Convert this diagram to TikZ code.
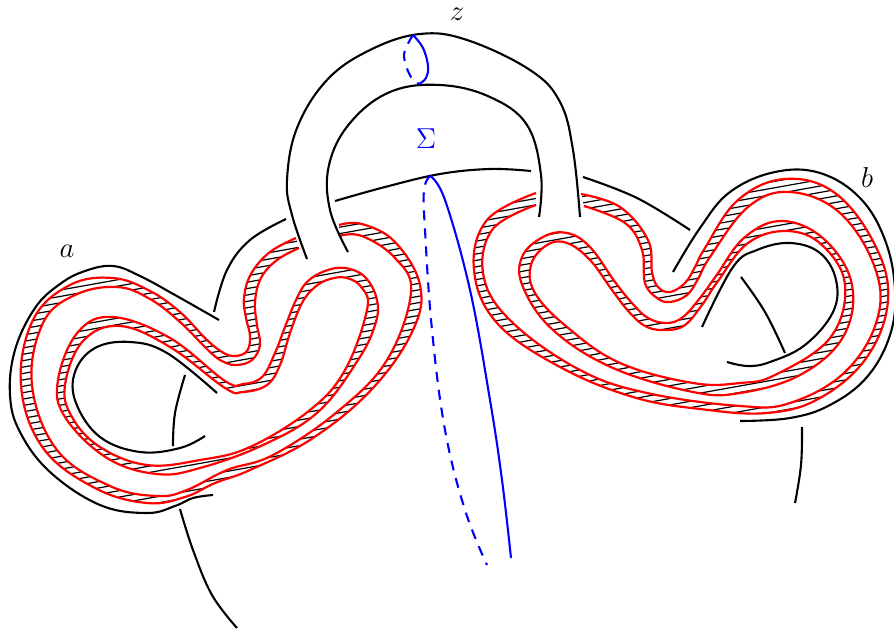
\documentclass[tikz,border=0pt]{standalone}
\usetikzlibrary{positioning}
\tikzset{
	every plot/.style={tension=0.65},
	strand/.style={line width=1.05pt, black},
	redline/.style={line width=1.1pt, red},
	hatchline/.style={line width=0.6pt, black},
	blueline/.style={line width=1.05pt, blue},
	bluedash/.style={line width=1.05pt, blue, dash pattern=on 5pt off 4pt},
	knotlabel/.style={font=\Large, inner sep=0pt}
}
% band edges, pixel positions of the two lobes
\newcommand{\edgeAone}{plot[smooth] coordinates {(339,225) (362,224) (395,242) (420,285) (413,330) (373,388) (313,438) (250,470) (215,483) (185,497) (147,503) (95,488) (43,448) (21,385) (33,320) (70,285) (113,278) (150,291) (180,312) (205,338) (222,352) (235,356) (247,351) (250,336) (246,318) (244,298) (251,274) (270,252) (296,238)}}
\newcommand{\edgeAtwo}{plot[smooth] coordinates {(339,236) (362,236) (395,258) (411,292) (387,360) (337,412) (273,455) (227,470) (187,490) (157,496) (110,486) (57,450) (32,385) (43,323) (75,295) (117,287) (150,299) (180,322) (210,352) (224,362) (237,365) (252,360) (260,345) (257,325) (255,302) (261,278) (277,260) (299,248)}}
\newcommand{\edgeBone}{plot[smooth cycle] coordinates {(345,268) (365,277) (377,300) (375,325) (358,360) (318,412) (263,445) (200,468) (157,474) (107,458) (65,417) (58,380) (78,332) (113,317) (170,338) (225,381) (243,384) (262,377) (275,353) (285,327) (296,300) (307,282) (325,271)}}
\newcommand{\edgeBtwo}{plot[smooth cycle] coordinates {(347,278) (362,288) (367,310) (345,370) (310,410) (250,447) (200,460) (147,465) (100,447) (72,417) (65,385) (83,341) (120,326) (170,347) (225,388) (243,392) (267,385) (280,365) (290,333) (302,303) (315,287) (330,279)}}
\newcommand{\edgeCone}{plot[smooth] coordinates {(581,194) (620,207) (648,240) (652,272) (658,287) (670,292) (685,283) (695,267) (705,248) (738,200) (785,179) (835,193) (875,245) (888,300) (867,357) (820,398) (767,413) (700,409) (633,397) (560,367) (497,323) (474,270) (487,220) (536,193)}}
\newcommand{\edgeCtwo}{plot[smooth] coordinates {(584,206) (625,223) (642,250) (645,283) (657,298) (670,302) (687,295) (698,279) (710,257) (748,207) (790,192) (840,213) (875,268) (877,320) (845,372) (790,403) (740,406) (647,393) (580,370) (513,323) (484,278) (492,230) (536,205)}}
\newcommand{\edgeDone}{plot[smooth cycle] coordinates {(567,233) (590,247) (615,282) (632,303) (648,318) (667,323) (683,317) (700,298) (716,276) (745,237) (783,221) (825,240) (852,285) (843,337) (800,375) (740,393) (693,392) (613,368) (553,330) (523,287) (522,257) (543,237)}}
\newcommand{\edgeDtwo}{plot[smooth cycle] coordinates {(567,243) (590,260) (612,290) (630,313) (647,327) (667,330) (685,325) (702,305) (718,281) (748,243) (787,231) (822,245) (845,285) (830,338) (775,375) (740,383) (693,383) (620,363) (567,327) (535,293) (531,265) (547,245)}}
\newcommand{\hatchlines}{\foreach \h in {0,6.4,...,900} \draw[hatchline] (0,\h) -- (894,\h-160);}
\begin{document}
\begin{tikzpicture}[x=0.5pt,y=-0.5pt]
	\useasboundingbox (0,0) rectangle (894,633);

	% hatching
	\begin{scope}[even odd rule]
		\clip \edgeAone \edgeAtwo;
		\hatchlines
	\end{scope}
	\begin{scope}[even odd rule]
		\clip \edgeBone \edgeBtwo;
		\hatchlines
	\end{scope}
	\begin{scope}[even odd rule]
		\clip \edgeCone \edgeCtwo;
		\hatchlines
	\end{scope}
	\begin{scope}[even odd rule]
		\clip \edgeDone \edgeDtwo;
		\hatchlines
	\end{scope}
	\fill[white] (296,236) -- (299,250) -- (339,238) -- (339,223) -- cycle;
	\fill[white] (536,191) -- (536,207) -- (584,208) -- (581,192) -- cycle;

	% red edges
	\draw[redline] \edgeAone;
	\draw[redline] \edgeAtwo;
	\draw[redline] \edgeBone;
	\draw[redline] \edgeBtwo;
	\draw[redline] \edgeCone;
	\draw[redline] \edgeCtwo;
	\draw[redline] \edgeDone;
	\draw[redline] \edgeDtwo;

	% handle
	\draw[strand] plot[smooth] coordinates {(307,259) (292,215) (287,180) (297,128) (327,80) (370,50) (420,34) (467,40) (530,70) (560,102) (573,150) (580,217)};
	\draw[strand] plot[smooth] coordinates {(348,252) (330,210) (329,165) (350,123) (390,92) (440,85) (490,97) (527,125) (541,175) (539,217)};
	\draw[strand] plot[smooth] coordinates {(335,201) (385,187) (440,174) (490,169) (531,171)};

	% left lobe
	\draw[strand] plot[smooth] coordinates {(286,219) (250,240) (227,270) (214,312)};
	\draw[strand] plot[smooth] coordinates {(219,320) (175,295) (140,276) (113,266) (85,271) (60,284) (35,308) (15,350) (10,395) (20,432) (50,472) (100,505) (147,513) (175,506) (193,498) (213,495)};
	\draw[strand] plot[smooth] coordinates {(217,393) (167,353) (130,342) (95,348) (75,372) (76,403) (100,437) (140,452) (180,448) (205,436)};
	\draw[strand] plot[smooth] coordinates {(185,375) (175,413) (173,446)};
	\draw[strand] plot[smooth] coordinates {(180,509) (193,550) (212,595) (237,628)};

	% right lobe
	\draw[strand] plot[smooth] coordinates {(583,177) (637,198) (690,230)};
	\draw[strand] plot[smooth] coordinates {(673,272) (700,228) (730,192) (775,172) (820,173) (860,198) (885,240) (895,290) (890,335) (867,377) (830,405) (790,418) (740,421)};
	\draw[strand] plot[smooth] coordinates {(702,327) (733,267) (757,250) (790,243) (820,253) (836,280) (833,312) (805,345) (770,362) (748,366) (727,362)};
	\draw[strand] plot[smooth] coordinates {(741,277) (765,312) (785,353)};
	\draw[strand] plot[smooth] coordinates {(802,427) (801,465) (795,503)};

	% meridian and surface
	\draw[blueline] plot[smooth] coordinates {(413,35) (423,48) (428,66) (426,78) (419,84)};
	\draw[bluedash] plot[smooth] coordinates {(413,35) (405,50) (405,62) (411,77) (419,84)};
	\draw[blueline] plot[smooth] coordinates {(430,176) (445,200) (470,290) (490,400) (502,480) (511,558)};
	\draw[bluedash] plot[smooth] coordinates {(430,176) (424,190) (425,230) (432,330) (445,430) (465,510) (487,565)};

	\node[knotlabel] (labela) at (67,251) {$a$};
	\node[knotlabel] (labelb) at (867,177) {$b$};
	\node[knotlabel] (labelz) at (457,14) {$z$};
	\node[knotlabel, blue] (labelsigma) at (426,139) {$\Sigma$};
\end{tikzpicture}
\end{document}
